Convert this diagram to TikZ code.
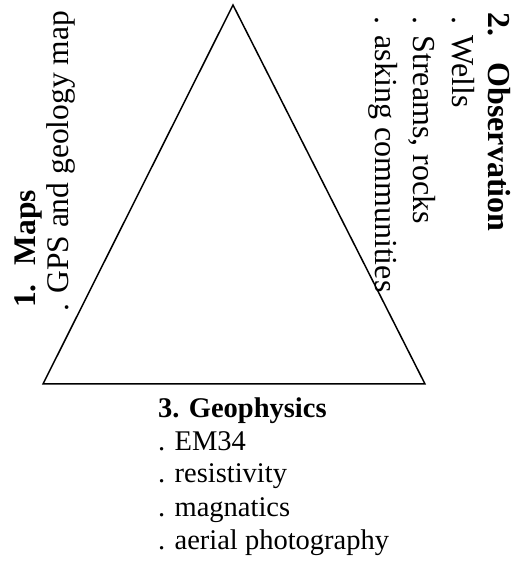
\documentclass[tikz,border=0pt]{standalone}
\usepackage{fontspec}
\setmainfont{Liberation Serif}
\begin{document}
\begin{tikzpicture}[x=1pt,y=1pt,
  ltxt/.style={inner sep=0pt,outer sep=0pt,anchor=base west,font=\fontsize{31.5}{36}\selectfont},
  rtxt/.style={inner sep=0pt,outer sep=0pt,anchor=base west,font=\fontsize{32}{36}\selectfont},
  btxt/.style={inner sep=0pt,outer sep=0pt,anchor=base west,font=\fontsize{28.5}{33}\selectfont},
  tri/.style={line width=1.5pt,line join=miter}]
\useasboundingbox (0,0) rectangle (517,565);
% triangle (y = 565 - pixel row)
\coordinate (apex) at (233,560);
\coordinate (bl) at (43,181);
\coordinate (br) at (425,181);
\draw[tri] (apex) -- (bl) -- (br) -- cycle;
% left: 1. Maps
\node[ltxt,rotate=90] (mapsh) at (35,257) {\textbf{1.\hspace{0.6em}Maps}};
\node[ltxt,rotate=90] (maps1) at (68,253) {. GPS and geology map};
% right: 2. Observation
\node[rtxt,rotate=-90] (obsh) at (488,552) {\textbf{2.\hspace{0.8em}Observation}};
\node[rtxt,rotate=-90] (obs1) at (452,548) {. Wells};
\node[rtxt,rotate=-90] (obs2) at (413,548) {. Streams, rocks};
\node[rtxt,rotate=-90] (obs3) at (375,548) {. asking communities};
% bottom: 3. Geophysics
\node[btxt] (geoh) at (158,147) {\textbf{3. Geophysics}};
\node[btxt] (geo1) at (158,114) {. EM34};
\node[btxt] (geo2) at (158,82) {. resistivity};
\node[btxt] (geo3) at (158,48) {. magnatics};
\node[btxt] (geo4) at (158,15) {. aerial photography};
\end{tikzpicture}
\end{document}
